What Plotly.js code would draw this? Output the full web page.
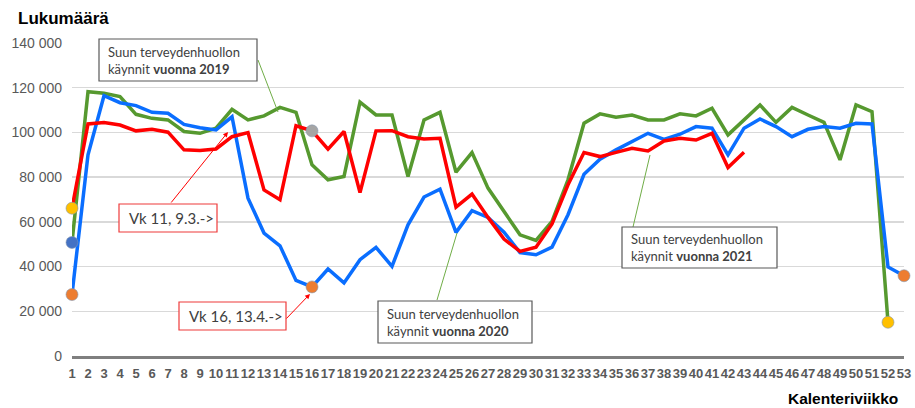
<!DOCTYPE html>
<html><head><meta charset="utf-8">
<script src="https://cdn.plot.ly/plotly-3.0.1.min.js"></script>
<style>html,body{margin:0;padding:0;background:#fff}#chart{width:915px;height:408px}</style>
</head><body><div id="chart"></div>
<script>
// ---- data ----
const weeks = [1,2,3,4,5,6,7,8,9,10,11,12,13,14,15,16,17,18,19,20,21,22,23,24,25,26,27,28,29,30,31,32,33,34,35,36,37,38,39,40,41,42,43,44,45,46,47,48,49,50,51,52,53];
const visits2019 = [50800,118200,117500,116000,108100,106300,105600,100400,99600,101900,110300,105600,107400,111200,109000,85500,78800,80300,113500,107800,107800,80300,105600,109000,82200,91000,75100,64600,54200,51700,60200,78800,104100,108300,106800,107800,105600,105600,108300,107400,110800,98900,105600,112300,104500,111200,107800,104500,87700,112300,109300,15100];
const visits2020 = [27500,90000,116400,113300,112000,109000,108600,103600,102100,101100,107000,70600,55000,49300,33800,30900,38900,32700,43100,48600,40100,58700,71100,74600,55300,65000,62000,55400,46300,45300,48700,63200,81300,88000,92200,95900,99600,96900,99200,102600,101900,90000,101900,106000,102600,98100,101400,102600,101900,104100,103800,39800,35900];
const visits2021 = [66100,103800,104400,103300,100700,101400,100100,92200,91900,92600,98100,99900,74300,69900,103000,100700,92500,100400,73100,100700,100800,98100,97100,97400,66600,72400,62000,52300,46800,48700,59100,76600,91000,89200,91100,92900,91700,96200,97400,96600,99600,84300,91100];
const yTickValues = [0,20000,40000,60000,80000,100000,120000,140000];
const yTickLabels = ['0','20 000','40 000','60 000','80 000','100 000','120 000','140 000'];
const xTickLabels = weeks.map(String);
const boxLabel2019 = 'Suun terveydenhuollon<br>käynnit <b>vuonna 2019</b>';
const boxLabel2020 = 'Suun terveydenhuollon<br>käynnit <b>vuonna 2020</b>';
const boxLabel2021 = 'Suun terveydenhuollon<br>käynnit <b>vuonna 2021</b>';
const calloutWeek11 = 'Vk 11, 9.3.->';
const calloutWeek16 = 'Vk 16, 13.4.->';
const yTitle = 'Lukumäärä';
const xTitle = 'Kalenteriviikko';

// highlighted points: [series, week, colour]
const highlights = [
  [visits2020, 1, '#ED7D31'],
  [visits2019, 1, '#4472C4'],
  [visits2021, 1, '#FFC000'],
  [visits2020, 16, '#ED7D31'],
  [visits2021, 16, '#A5A5A5'],
  [visits2019, 52, '#FFC000'],
  [visits2020, 53, '#ED7D31']
];

// ---- layout helpers (pixel -> paper) ----
const L = 72, R = 904, T = 43, B = 356;
const PX = px => (px - L) / (R - L);
const PY = py => (B - py) / (B - T);

const FONT = 'Liberation Sans, Arial, sans-serif';
const BOXFONT = 'Lato, Open Sans, sans-serif';

const traces = [
  {x: weeks.slice(0, visits2019.length), y: visits2019, type: 'scatter', mode: 'lines', name: '2019',
   line: {color: '#56992F', width: 3.5}, cliponaxis: false},
  {x: weeks.slice(0, visits2020.length), y: visits2020, type: 'scatter', mode: 'lines', name: '2020',
   line: {color: '#0A6EFF', width: 3.5}, cliponaxis: false},
  {x: weeks.slice(0, visits2021.length), y: visits2021, type: 'scatter', mode: 'lines', name: '2021',
   line: {color: '#FF0000', width: 3.5}, cliponaxis: false},
  {x: highlights.map(h => h[1]), y: highlights.map(h => h[0][h[1] - 1]), type: 'scatter', mode: 'markers',
   marker: {size: 12, color: highlights.map(h => h[2]), line: {width: 0.6, color: '#8497B0'}}, cliponaxis: false}
];

function rect(x0, y0, x1, y1, color) {
  return {type: 'rect', xref: 'paper', yref: 'paper', x0: PX(x0), x1: PX(x1), y0: PY(y0), y1: PY(y1),
          line: {color: color, width: 1.2}, fillcolor: '#FFFFFF', layer: 'above'};
}
function seg(x0, y0, x1, y1, color) {
  return {type: 'line', xref: 'paper', yref: 'paper', x0: PX(x0), x1: PX(x1), y0: PY(y0), y1: PY(y1),
          line: {color: color, width: 1}, layer: 'above'};
}
function boxText(text, x, y, size) {
  return {xref: 'paper', yref: 'paper', x: PX(x), y: PY(y), xanchor: 'left', yanchor: 'middle', align: 'left',
          text: text, showarrow: false, font: {family: BOXFONT, size: size, color: '#404040'}};
}
function arrow(x0, y0, x1, y1) {
  return {xref: 'paper', yref: 'paper', x: PX(x1), y: PY(y1), ax: x0 - x1, ay: y0 - y1, text: '',
          showarrow: true, arrowhead: 2, arrowsize: 1, arrowwidth: 1, arrowcolor: '#FF0000', standoff: 0};
}

const layout = {
  width: 915, height: 408,
  margin: {l: L, r: 915 - R, t: T, b: 408 - B},
  paper_bgcolor: '#FFFFFF', plot_bgcolor: '#FFFFFF',
  showlegend: false,
  title: {text: '<b>' + yTitle + '</b>', xref: 'container', yref: 'container', x: 18 / 915, xanchor: 'left',
          y: 1 - 18 / 408, yanchor: 'middle', font: {family: FONT, size: 17, color: '#000000'}},
  xaxis: {range: [1, 53], tickvals: weeks, ticktext: xTickLabels, tickangle: 0, showgrid: false, zeroline: false,
          showline: true, linecolor: '#7F7F7F', linewidth: 2.5, ticks: '', ticklabelstandoff: 4,
          tickfont: {family: FONT, size: 13, color: '#595959', weight: 'bold'}, fixedrange: true},
  yaxis: {range: [0, 140000], tickvals: yTickValues, ticktext: yTickLabels, showgrid: true,
          gridcolor: '#D9D9D9', gridwidth: 1.3, zeroline: false, showline: false, ticks: '',
          ticklabelstandoff: 9, tickfont: {family: FONT, size: 14, color: '#595959'}, fixedrange: true},
  shapes: [
    seg(258, 60, 278, 112, '#70AD47'),
    seg(437, 300, 457, 233, '#70AD47'),
    seg(633, 227, 650, 155, '#70AD47'),
    rect(99, 39, 257, 81, '#595959'),
    rect(378, 301, 532, 343, '#595959'),
    rect(622, 227, 777, 268, '#595959'),
    rect(119, 204, 217, 232, '#EE3B3B'),
    rect(179, 302, 286, 330, '#EE3B3B')
  ],
  annotations: [
    boxText(boxLabel2019, 106, 60.5, 13),
    boxText(boxLabel2020, 385, 322, 13),
    boxText(boxLabel2021, 629, 247.5, 13),
    boxText(calloutWeek11, 127, 218, 15),
    boxText(calloutWeek16, 187, 316, 15),
    arrow(170, 204, 228, 132),
    arrow(285, 320, 310, 294),
    {xref: 'paper', yref: 'paper', x: PX(900), y: PY(398), xanchor: 'right', yanchor: 'middle', showarrow: false,
     text: '<b>' + xTitle + '</b>', font: {family: FONT, size: 15.5, color: '#000000'}}
  ]
};

Plotly.newPlot('chart', traces, layout, {displayModeBar: false, staticPlot: true});
</script>
</body></html>
